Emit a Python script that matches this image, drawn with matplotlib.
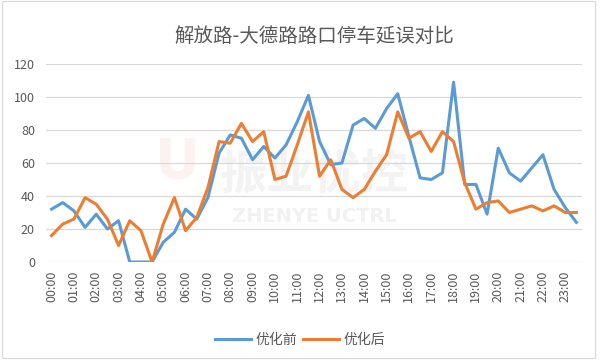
import numpy as np
import matplotlib
matplotlib.use("Agg")
import matplotlib.pyplot as plt
from matplotlib.patches import Rectangle

plt.rcParams['font.family'] = ['Noto Sans CJK SC', 'DejaVu Sans']

# half-hour slots, 00:00 .. 23:30
slots = ["%02d:%02d" % (h, m) for h in range(24) for m in (0, 30)]
tick_labels = [s if s.endswith(":00") else "" for s in slots]

before = [32, 36, 31, 21, 29, 20, 25, 0, 0, 0, 12, 18, 32, 26, 39, 66,
          77, 75, 62, 70, 63, 71, 85, 101, 73, 59, 60, 83, 87, 81, 93, 102,
          76, 51, 50, 54, 109, 47, 47, 29, 69, 54, 49, 57, 65, 44, 33, 24]
after = [16, 23, 26, 39, 35, 26, 10, 25, 19, 0, 23, 39, 19, 27, 45, 73,
         72, 84, 73, 79, 50, 52, 71, 91, 52, 62, 44, 39, 44, 55, 65, 91,
         75, 79, 67, 79, 73, 48, 32, 36, 37, 30, 32, 34, 31, 34, 30, 30]
series_names = ["优化前", "优化后"]
colors = ["#5B9BD5", "#ED7D31"]

fig = plt.figure(figsize=(6, 3.6), dpi=100)
fig.patches.append(Rectangle((0.004, 0.006), 0.988, 0.99, transform=fig.transFigure,
                             fill=False, edgecolor="#D9D9D9", linewidth=0.8))
ax = fig.add_axes([46 / 600, 98 / 360, 536 / 600, 198 / 360])

x = np.arange(len(slots))

# watermark
ax.text(0.5, 0.44, "振业优控", transform=ax.transAxes, ha="center", va="center",
        fontsize=34, color="#F3F3F3", fontweight="bold", zorder=0)
ax.text(0.5, 0.23, "ZHENYE UCTRL", transform=ax.transAxes, ha="center", va="center",
        fontsize=14, color="#F1F1F1", fontweight="bold", family="DejaVu Sans", zorder=0)
ax.text(0.245, 0.5, "U", transform=ax.transAxes, ha="center", va="center",
        fontsize=40, color="#FDF2F2", fontweight="bold", family="DejaVu Sans", zorder=0)

ax.plot(x, before, color=colors[0], linewidth=2.2, label=series_names[0], zorder=3)
ax.plot(x, after, color=colors[1], linewidth=2.2, label=series_names[1], zorder=4)

ax.set_xlim(-0.5, len(slots) - 0.5)
ax.set_ylim(0, 120)
ax.set_yticks(np.arange(0, 121, 20))
ax.yaxis.grid(True, color="#D9D9D9", linewidth=0.9)
ax.set_axisbelow(True)
for s in ax.spines.values():
    s.set_visible(False)

ax.set_xticks(x[::2])
ax.set_xticklabels(tick_labels[::2], rotation=90)
ax.tick_params(axis="both", length=0, colors="#595959", labelsize=9)
ax.tick_params(axis="x", pad=6)
ax.tick_params(axis="y", pad=8)

ax.set_title("解放路-大德路路口停车延误对比", fontsize=14, color="#595959", pad=16)

fig.legend(loc="center", bbox_to_anchor=(0.5, 0.055), ncol=2, frameon=False,
           fontsize=10, handlelength=2.6, columnspacing=0.4, handletextpad=0.3,
           labelcolor="#595959")

fig.savefig("out.png", dpi=100)
